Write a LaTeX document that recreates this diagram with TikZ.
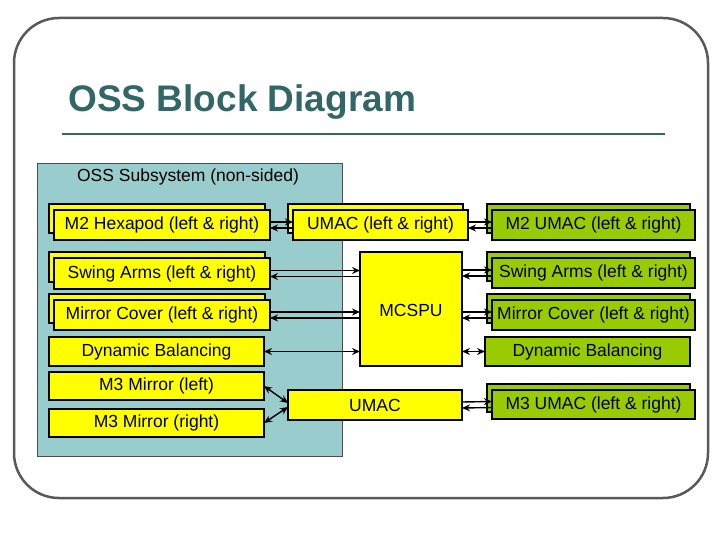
\documentclass[tikz,border=0pt]{standalone}
\usepackage{fontspec}
\setmainfont{Liberation Sans}
\usetikzlibrary{arrows.meta,calc}
\definecolor{teal1}{HTML}{99CCCC}
\definecolor{ttl}{HTML}{336666}
\definecolor{grn}{HTML}{99CC00}
\definecolor{yel}{HTML}{FFFF00}
\begin{document}
\begin{tikzpicture}[x=1pt,y=-1pt,
  box/.style={draw=black,line width=1.2pt,inner sep=0pt},
  tx/.style={font=\fontsize{17.5}{20}\selectfont,inner sep=0pt},
  arr/.style={line width=1.4pt,-{Stealth[length=8pt,width=7pt]}},
  barr/.style={line width=1.4pt,{Stealth[length=8pt,width=7pt]}-{Stealth[length=8pt,width=7pt]}}]
\useasboundingbox (0,0) rectangle (720,540);
\fill[white] (0,0) rectangle (720,540);
\draw[draw=gray!70!black,line width=2.5pt,rounded corners=45] (14,18) rectangle (708,498);
\node[anchor=west,text=ttl,font=\fontsize{37}{40}\selectfont\bfseries] (title) at (65,102) {OSS Block Diagram};
\draw[ttl,line width=2.5pt] (62,134) -- (665,134);
\draw[fill=teal1,draw=gray!60!black,line width=0.8pt] (37,163) rectangle (342,456);
\node[tx] (sub) at (188,177) {OSS Subsystem (non-sided)};
\newcommand{\stk}[7]{%
  \draw[box,fill=#6] (#2-5,#3-6) rectangle (#4-5,#5-7);
  \draw[box,fill=#6] (#2,#3) rectangle (#4,#5);
  \node[tx] (#1) at ({(#2+#4)/2},{(#3+#5)/2}) {#7};
  \coordinate (#1w) at (#2,{(#3+#5)/2});
  \coordinate (#1e) at (#4,{(#3+#5)/2});}
\newcommand{\sgl}[7]{%
  \draw[box,fill=#6] (#2,#3) rectangle (#4,#5);
  \node[tx] (#1) at ({(#2+#4)/2},{(#3+#5)/2}) {#7};
  \coordinate (#1w) at (#2,{(#3+#5)/2});
  \coordinate (#1e) at (#4,{(#3+#5)/2});}
\stk{hex}{54}{210}{270}{240}{yel}{M2 Hexapod (left \& right)}
\stk{swl}{54}{258}{270}{289}{yel}{Swing Arms (left \& right)}
\stk{mcl}{54}{300}{270}{330}{yel}{Mirror Cover (left \& right)}
\sgl{dbl}{49}{337}{264}{366}{yel}{Dynamic Balancing}
\sgl{m3l}{49}{372}{264}{400}{yel}{M3 Mirror (left)}
\sgl{m3r}{49}{409}{264}{437}{yel}{M3 Mirror (right)}
\stk{umlr}{293}{210}{468}{240}{yel}{UMAC (left \& right)}
\draw[box,fill=yel] (360,252) rectangle (462,366);
\node[tx] (mcspu) at (411,310) {MCSPU};
\coordinate (mcw) at (360,309);
\coordinate (mce) at (462,309);
\sgl{umac}{288}{390}{462}{420}{yel}{UMAC}
\stk{m2u}{492}{210}{695}{240}{grn}{M2 UMAC (left \& right)}
\stk{swr}{492}{258}{695}{288}{grn}{Swing Arms (left \& right)}
\stk{mcr}{492}{300}{695}{330}{grn}{Mirror Cover (left \& right)}
\sgl{dbr}{485}{337}{690}{366}{grn}{Dynamic Balancing}
\stk{m3u}{492}{390}{695}{419}{grn}{M3 UMAC (left \& right)}
% connectors
\draw[arr] ($(hexe)+(0,-3)$) -- ($(umlrw)+(0,-3)$);
\draw[arr] ($(umlrw)+(0,3)$) -- ($(hexe)+(0,3)$);
\draw[arr] ($(umlre)+(0,-3)$) -- ($(m2uw)+(0,-3)$);
\draw[arr] ($(m2uw)+(0,3)$) -- ($(umlre)+(0,3)$);
\draw[arr] ($(swle)+(0,-3)$) -- ($(mcw)+(0,-38.5)$);
\draw[arr] ($(mcw)+(0,-32.5)$) -- ($(swle)+(0,3)$);
\draw[arr] ($(mcle)+(0,-3)$) -- ($(mcw)+(0,3)$);
\draw[arr] ($(mcw)+(0,9)$) -- ($(mcle)+(0,3)$);
\draw[barr] (dble) -- ($(mcw)+(0,42.5)$);
\draw[arr] ($(mce)+(0,-39)$) -- ($(swrw)+(0,-3)$);
\draw[arr] ($(swrw)+(0,3)$) -- ($(mce)+(0,-33)$);
\draw[arr] ($(mce)+(0,3)$) -- ($(mcrw)+(0,-3)$);
\draw[arr] ($(mcrw)+(0,3)$) -- ($(mce)+(0,9)$);
\draw[barr] ($(mce)+(0,42.5)$) -- (dbrw);
\draw[arr] ($(umace)+(0,-3)$) -- ($(m3uw)+(0,-3)$);
\draw[arr] ($(m3uw)+(0,3)$) -- ($(umace)+(0,3)$);
\draw[barr] (m3le) -- ($(umacw)+(0,-2)$);
\draw[barr] (m3re) -- ($(umacw)+(0,2)$);
\end{tikzpicture}
\end{document}
